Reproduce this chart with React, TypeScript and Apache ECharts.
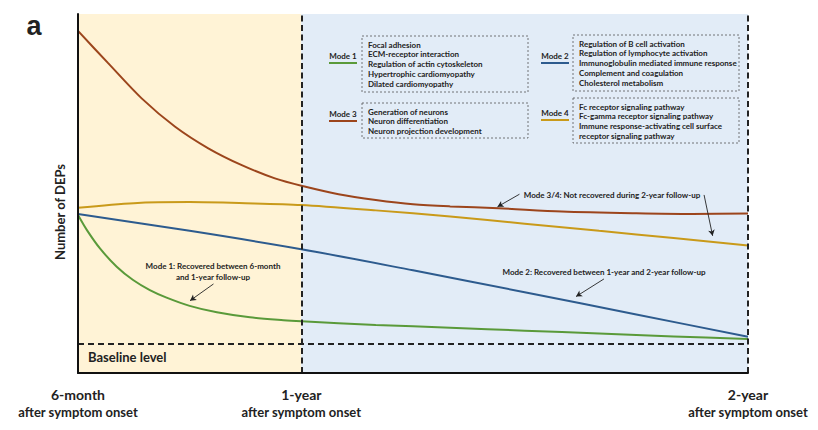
import React, { useEffect, useRef } from "react";
import * as echarts from "echarts";

// ---- data (months after symptom onset, relative number of DEPs) ----
const tickMonths = [6, 12, 24];
const tickLabels = ["6-month", "1-year", "2-year"];
const tickSub = "after symptom onset";

const mode1Data = [
  [6, 44.0], [6.24, 39.8], [6.59, 34.7], [7.04, 29.6], [7.48, 25.9], [7.93, 23.1],
  [8.38, 21.0], [9.0, 18.7], [9.73, 16.9], [10.62, 15.5], [11.52, 14.7], [12, 14.4],
  [14, 13.4], [16, 12.6], [18, 11.8], [20, 11.0], [22, 10.2], [24, 9.5],
];
const mode2Data = [
  [6, 44.3], [9, 39.6], [12, 34.5], [15, 28.6], [18, 22.5], [21, 16.3], [24, 10.1],
];
const mode3Data = [
  [6, 95.3], [6.81, 86.3], [7.71, 76.5], [8.61, 68.6], [9.5, 62.6], [10.4, 57.9],
  [11.29, 54.2], [12.06, 52.0], [13, 49.8], [14, 48.2], [15, 47.0], [16, 46.4],
  [17.3, 45.9], [19, 45.0], [21, 44.5], [22.5, 44.3], [24, 44.4],
];
const mode4Data = [
  [6, 46.0], [7.5, 47.3], [9, 47.6], [10.5, 47.3], [12, 46.8], [14, 45.3],
  [16, 43.6], [18, 41.6], [20, 39.6], [22, 37.6], [24, 35.5],
];
const baselineValue = 8.1;
const periodBounds = [6, 12, 24];

const mode1Terms = ["Focal adhesion", "ECM-receptor interaction", "Regulation of actin cytoskeleton", "Hypertrophic cardiomyopathy", "Dilated cardiomyopathy"];
const mode2Terms = ["Regulation of B cell activation", "Regulation of lymphocyte activation", "Immunoglobulin mediated immune response", "Complement and coagulation", "Cholesterol metabolism"];
const mode3Terms = ["Generation of neurons", "Neuron differentiation", "Neuron projection development"];
const mode4Terms = ["Fc receptor signaling pathway", "Fc-gamma receptor signaling pathway", "Immune response-activating cell surface", "receptor signaling pathway"];

// arrow annotations: [from, to] in data coordinates
const arrows = [
  [[9.64, 24.8], [9.01, 20.15]],
  [[17.86, 49.8], [17.27, 46.3]],
  [[22.82, 49.6], [23.05, 38.2]],
  [[20.13, 26.2], [19.38, 21.3]],
];

const C_GREEN = "#5A9A3A";
const C_BLUE = "#2D5B8E";
const C_BROWN = "#9C451C";
const C_YELLOW = "#C99A1A";
const FONT = "Lato, 'Open Sans', sans-serif";

function legendBlock(label: string, color: string, terms: string[], lx: number, ly: number, bx: number, by: number, bw: number, bh: number) {
  const items: any[] = [];
  items.push({
    type: "text", x: lx, y: ly, z: 100,
    style: { text: label, fill: "#222", font: `bold 8px ${FONT}`, align: "center", verticalAlign: "middle" },
  });
  items.push({
    type: "line", z: 100, shape: { x1: lx - 14, y1: ly + 7, x2: lx + 14, y2: ly + 7 },
    style: { stroke: color, lineWidth: 2 },
  });
  items.push({
    type: "rect", z: 100, shape: { x: bx, y: by, width: bw, height: bh },
    style: { fill: "none", stroke: "#555", lineWidth: 0.8, lineDash: [2, 2] },
  });
  terms.forEach((t, i) => {
    items.push({
      type: "text", z: 100, x: bx + 6, y: by + 8.5 + i * 9.8,
      style: { text: t, fill: "#222", font: `bold 8px ${FONT}`, align: "left", verticalAlign: "middle" },
    });
  });
  return items;
}

function txt(text: string, x: number, y: number, font: string, align = "center") {
  return { type: "text", z: 100, x, y, style: { text, fill: "#222", font, align, verticalAlign: "middle" } };
}

export default function App() {
  const ref = useRef<HTMLDivElement>(null);
  useEffect(() => {
    const chart = echarts.init(ref.current!, null, { renderer: "svg" });
    const lineSeries = (name: string, data: number[][], color: string) => ({
      name, type: "line", data, smooth: 0.3, showSymbol: false, symbol: "none",
      lineStyle: { color, width: 2 }, z: 4, silent: true,
    });
    const option: any = {
      animation: false,
      backgroundColor: "#ffffff",
      grid: { left: 78, right: 70, top: 14, bottom: 57 },
      xAxis: {
        type: "value", min: 6, max: 24, interval: 6, z: 10,
        axisLine: { show: true, onZero: false, lineStyle: { color: "#111", width: 2 } },
        axisTick: { show: false }, splitLine: { show: false },
        axisLabel: {
          margin: 13, showMinLabel: true, showMaxLabel: true,
          formatter: (v: number) => {
            const i = tickMonths.indexOf(v);
            return i < 0 ? "" : `{a|${tickLabels[i]}}\n{b|${tickSub}}`;
          },
          rich: {
            a: { fontFamily: FONT, fontWeight: "bold", fontSize: 14, color: "#222", lineHeight: 17 },
            b: { fontFamily: FONT, fontWeight: "bold", fontSize: 13, color: "#222", lineHeight: 17 },
          },
        },
      },
      yAxis: {
        type: "value", min: 0, max: 100, z: 10,
        axisLine: { show: true, lineStyle: { color: "#111", width: 2 } },
        axisTick: { show: false }, axisLabel: { show: false }, splitLine: { show: false },
      },
      series: [
        {
          name: "bg", type: "line", data: [], z: 1, silent: true,
          markArea: {
            silent: true,
            data: [
              [{ xAxis: periodBounds[0], itemStyle: { color: "#FFF3D6" } }, { xAxis: periodBounds[1] }],
              [{ xAxis: periodBounds[1], itemStyle: { color: "#E2ECF7" } }, { xAxis: periodBounds[2] }],
            ],
          },
        },
        {
          name: "refs", type: "line", data: [], z: 3, silent: true,
          markLine: {
            silent: true, symbol: "none", label: { show: false },
            lineStyle: { color: "#222", width: 2, type: [6, 3.5] },
            data: [
              { xAxis: periodBounds[1] },
              { xAxis: periodBounds[2] },
              { yAxis: baselineValue, lineStyle: { type: [6, 4] } },
            ],
          },
        },
        lineSeries("Mode 3", mode3Data, C_BROWN),
        lineSeries("Mode 4", mode4Data, C_YELLOW),
        lineSeries("Mode 2", mode2Data, C_BLUE),
        lineSeries("Mode 1", mode1Data, C_GREEN),
        {
          name: "arrows", type: "line", data: [], z: 6, silent: true,
          markLine: {
            silent: true, symbol: ["none", "arrow"], symbolSize: [5, 6], label: { show: false },
            lineStyle: { color: "#222", width: 0.9, type: "solid" },
            data: arrows.map((a) => [{ coord: a[0] }, { coord: a[1] }]),
          },
        },
      ],
      graphic: [
        txt("a", 34, 26, `bold 27px 'Liberation Sans', Arial, sans-serif`),
        {
          type: "text", x: 60, y: 212, rotation: Math.PI / 2, z: 100,
          style: { text: "Number of DEPs", fill: "#222", font: `bold 13px ${FONT}`, align: "center", verticalAlign: "middle" },
        },
        txt("Baseline level", 88, 357, `bold 13px ${FONT}`, "left"),
        txt("Mode 1: Recovered between 6-month", 213, 266, `bold 8px ${FONT}`),
        txt("and 1-year follow-up", 213, 276.5, `bold 8px ${FONT}`),
        txt("Mode 3/4: Not recovered during 2-year follow-up", 612, 195, `bold 8px ${FONT}`),
        txt("Mode 2: Recovered between 1-year and 2-year follow-up", 604, 272, `bold 8px ${FONT}`),
        ...legendBlock("Mode 1", C_GREEN, mode1Terms, 343, 56, 362, 36, 166, 56),
        ...legendBlock("Mode 3", C_BROWN, mode3Terms, 343, 114, 362, 103, 166, 35),
        ...legendBlock("Mode 2", C_BLUE, mode2Terms, 555, 56, 573, 35, 166, 56),
        ...legendBlock("Mode 4", C_YELLOW, mode4Terms, 555, 113, 573, 98, 166, 45),
      ],
    };
    chart.setOption(option);
    return () => chart.dispose();
  }, []);
  return <div ref={ref} style={{ position: "fixed", left: 0, top: 0, width: 818, height: 430 }} />;
}
